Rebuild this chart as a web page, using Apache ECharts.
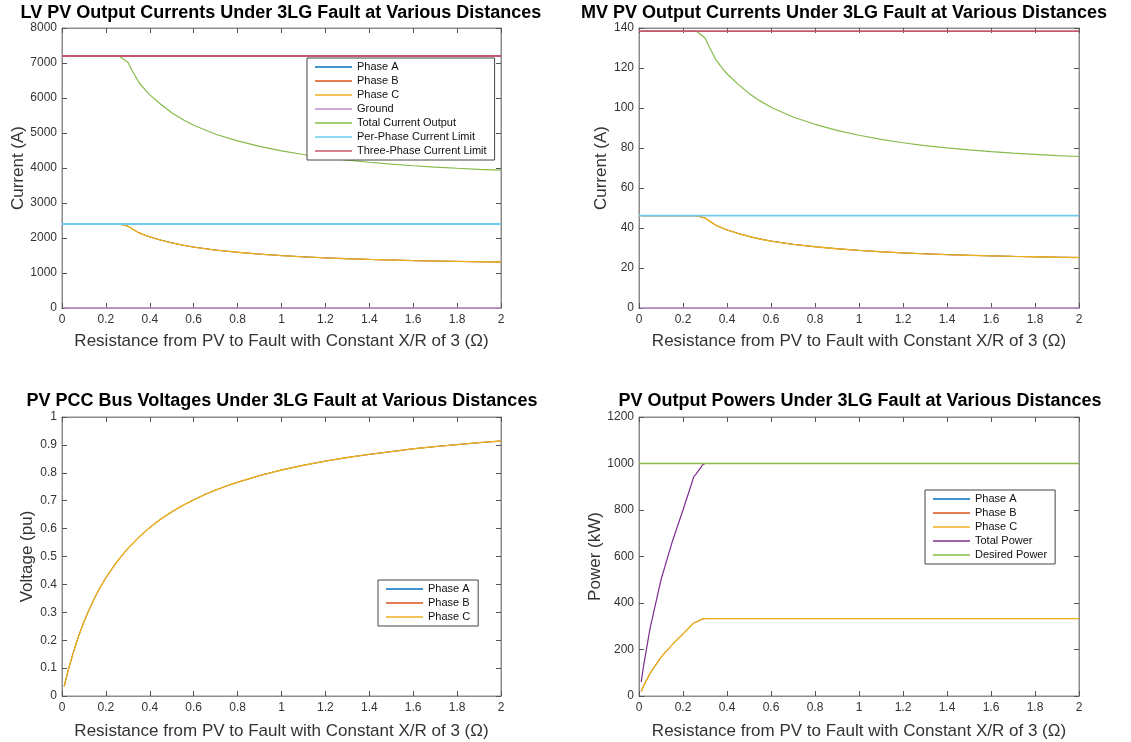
<!DOCTYPE html>
<html>
<head>
<meta charset="utf-8">
<script src="https://cdn.jsdelivr.net/npm/echarts@6/dist/echarts.min.js"></script>
<style>
html,body{margin:0;padding:0;background:#fff;}
#chart{width:1131px;height:742px;}
</style>
</head>
<body>
<div id="chart"></div>
<script>
// ---------- Data ----------
const titles = [
  'LV PV Output Currents Under 3LG Fault at Various Distances',
  'MV PV Output Currents Under 3LG Fault at Various Distances',
  'PV PCC Bus Voltages Under 3LG Fault at Various Distances',
  'PV Output Powers Under 3LG Fault at Various Distances'
];
const xAxisName = 'Resistance from PV to Fault with Constant X/R of 3 (\u03A9)';
const yNames = ['Current (A)', 'Current (A)', 'Voltage (pu)', 'Power (kW)'];

// Currents (LV and MV), x = resistance (ohm)
const xCurr = [0.01,0.1,0.2,0.26,0.28,0.3,0.32,0.35,0.38,0.4,0.45,0.5,0.55,0.6,0.7,0.8,0.9,1.0,1.1,1.2,1.3,1.4,1.5,1.6,1.7,1.8,1.9,2.0];
const lvPhase = [2400,2400,2400,2400,2370,2340,2260,2150,2075,2030,1940,1860,1795,1740,1655,1592,1540,1497,1462,1432,1408,1388,1370,1355,1342,1331,1321,1313];
const lvTotal = [7200,7200,7200,7200,7110,7020,6780,6450,6225,6090,5820,5580,5385,5220,4965,4776,4620,4491,4386,4296,4224,4164,4110,4065,4026,3993,3963,3939];
const mvPhase = [46.15,46.15,46.15,46.15,45.58,45.0,43.46,41.35,39.9,39.04,37.31,35.77,34.52,33.46,31.83,30.62,29.62,28.79,28.12,27.54,27.08,26.69,26.35,26.06,25.81,25.6,25.4,25.25];
const mvTotal = [138.46,138.46,138.46,138.46,136.73,135.0,130.38,124.04,119.7,117.12,111.92,107.31,103.56,100.38,95.48,91.85,88.85,86.37,84.35,82.62,81.23,80.08,79.04,78.17,77.42,76.79,76.21,75.75];
const limitX = [0, 2];
const lvPerPhaseLimit = [2400, 2400];
const lvThreePhaseLimit = [7200, 7200];
const mvPerPhaseLimit = [46.15, 46.15];
const mvThreePhaseLimit = [138.46, 138.46];
const groundX = [0.01, 2];
const groundVals = [0, 0];

// Voltages
const xV = [0.01,0.02,0.03,0.05,0.075,0.1,0.125,0.15,0.175,0.2,0.25,0.3,0.35,0.4,0.45,0.5,0.55,0.6,0.65,0.7,0.75,0.8,0.9,1.0,1.1,1.2,1.3,1.4,1.5,1.6,1.7,1.8,1.9,2.0];
const vPhase = [0.034,0.067,0.097,0.152,0.213,0.266,0.312,0.354,0.391,0.424,0.481,0.529,0.569,0.604,0.634,0.66,0.683,0.703,0.722,0.738,0.753,0.766,0.79,0.81,0.827,0.842,0.855,0.866,0.876,0.886,0.894,0.901,0.908,0.914];

// Powers
const xP = [0.01,0.02,0.05,0.1,0.15,0.2,0.25,0.26,0.29,0.3,0.5,1.0,1.5,2.0];
const pTotal = [60,125,290,500,660,800,945,955,995,1000,1000,1000,1000,1000];
const pPhase = [20,42,97,167,220,267,315,318,332,333,333,333,333,333];
const desiredX = [0, 2];
const desiredP = [1000, 1000];

// Axis ranges
const yRanges = [
  {min:0, max:8000, interval:1000},
  {min:0, max:140, interval:20},
  {min:0, max:1, interval:0.1},
  {min:0, max:1200, interval:200}
];

// ---------- Styling ----------
const FONT = '"Liberation Sans", Arial, Helvetica, sans-serif';
const C = {
  A:'#0072BD', B:'#D95319', Cc:'#EDB120', ground:'#BE8ECB', total:'#86BB4A',
  perPhase:'#6CCBEF', three:'#C8566E', totalP:'#7E2F8E', desired:'#86BB4A'
};
const grids = [
  {left:62, top:28, width:439, height:280},
  {left:639, top:28, width:440, height:280},
  {left:62, top:417, width:439, height:279},
  {left:639, top:417, width:440, height:279}
];
const titlePos = [{x:281, y:4}, {x:844, y:4}, {x:282, y:392}, {x:860, y:392}];
const yNameGap = [33, 29, 26, 33];
const xNameGap = [25, 25, 27, 27];
const AXIS_COLOR = '#8c8c8c';
const TICK_COLOR = '#555';

function pts(xs, ys){ return xs.map((x,i)=>[x, ys[i]]); }
function fmt(v){ return String(Math.round(v*1e6)/1e6); }

const xAxes = [], yAxes = [];
grids.forEach((g, i) => {
  const common = {gridIndex:i, type:'value', min:0, max:2, interval:0.2, splitLine:{show:false},
    axisLine:{show:true, onZero:false, lineStyle:{color:AXIS_COLOR, width:1}},
    axisTick:{show:true, inside:true, length:5, lineStyle:{color:TICK_COLOR}}};
  xAxes.push(Object.assign({}, common, {position:'bottom', name:xAxisName, nameLocation:'middle', nameGap:xNameGap[i],
    nameTextStyle:{fontSize:17, color:'#333', fontFamily:FONT},
    axisLabel:{fontSize:12, color:'#333', margin:6, fontFamily:FONT, formatter:fmt}}));
  xAxes.push(Object.assign({}, common, {position:'top', axisLabel:{show:false}}));
  const r = yRanges[i];
  const ycommon = {gridIndex:i, type:'value', min:r.min, max:r.max, interval:r.interval, splitLine:{show:false},
    axisLine:{show:true, onZero:false, lineStyle:{color:AXIS_COLOR, width:1}},
    axisTick:{show:true, inside:true, length:5, lineStyle:{color:TICK_COLOR}}};
  yAxes.push(Object.assign({}, ycommon, {position:'left', name:yNames[i], nameLocation:'middle', nameGap:yNameGap[i],
    nameTextStyle:{fontSize:17, color:'#333', fontFamily:FONT},
    axisLabel:{fontSize:12, color:'#333', margin:5, fontFamily:FONT, formatter:fmt}}));
  yAxes.push(Object.assign({}, ycommon, {position:'right', axisLabel:{show:false}}));
});

function line(name, gi, data, color, width){
  return {name, type:'line', xAxisIndex:gi*2, yAxisIndex:gi*2, data, symbol:'none', showSymbol:false,
    clip:false, animation:false, lineStyle:{color, width:width||1}, itemStyle:{color}};
}

const series = [
  // LV
  line('Phase A', 0, pts(xCurr, lvPhase), C.A, 0.8),
  line('Phase B', 0, pts(xCurr, lvPhase), C.B, 0.8),
  line('Phase C', 0, pts(xCurr, lvPhase), C.Cc, 1.4),
  line('Ground', 0, pts(groundX, groundVals), C.ground, 1.5),
  line('Total Current Output', 0, pts(xCurr, lvTotal), C.total, 1.2),
  line('Per-Phase Current Limit', 0, pts(limitX, lvPerPhaseLimit), C.perPhase, 1.8),
  line('Three-Phase Current Limit', 0, pts(limitX, lvThreePhaseLimit), C.three, 1.8),
  // MV
  line('Phase A', 1, pts(xCurr, mvPhase), C.A, 0.8),
  line('Phase B', 1, pts(xCurr, mvPhase), C.B, 0.8),
  line('Phase C', 1, pts(xCurr, mvPhase), C.Cc, 1.4),
  line('Ground', 1, pts(groundX, groundVals), C.ground, 1.5),
  line('Total Current Output', 1, pts(xCurr, mvTotal), C.total, 1.2),
  line('Per-Phase Current Limit', 1, pts(limitX, mvPerPhaseLimit), C.perPhase, 1.8),
  line('Three-Phase Current Limit', 1, pts(limitX, mvThreePhaseLimit), C.three, 1.8),
  // Voltage
  line('Phase A', 2, pts(xV, vPhase), C.A, 0.8),
  line('Phase B', 2, pts(xV, vPhase), C.B, 0.8),
  line('Phase C', 2, pts(xV, vPhase), C.Cc, 1.4),
  // Power
  line('Phase A', 3, pts(xP, pPhase), C.A, 0.8),
  line('Phase B', 3, pts(xP, pPhase), C.B, 0.8),
  line('Phase C', 3, pts(xP, pPhase), C.Cc, 1.4),
  line('Total Power', 3, pts(xP, pTotal), C.totalP, 1.2),
  line('Desired Power', 3, pts(desiredX, desiredP), C.desired, 1.3)
];

function legend(names, left, top){
  return {data:names, orient:'vertical', left, top, itemWidth:37, itemHeight:1.6, itemGap:2,
    icon:'rect', padding:[3,8,3,8], borderColor:'#444', borderWidth:1, backgroundColor:'#fff',
    selectedMode:false,
    textStyle:{fontSize:11, lineHeight:12, color:'#111', fontFamily:FONT}};
}

const option = {
  backgroundColor:'#fff',
  animation:false,
  textStyle:{fontFamily:FONT},
  title: titles.map((t,i)=>({text:t, left:titlePos[i].x, top:titlePos[i].y, textAlign:'center', padding:0,
    textStyle:{fontSize:18, fontWeight:'bold', color:'#000', fontFamily:FONT}})),
  grid: grids.map(g=>Object.assign({show:true, borderColor:AXIS_COLOR, borderWidth:1, backgroundColor:'#fff', containLabel:false}, g)),
  xAxis: xAxes,
  yAxis: yAxes,
  legend: [
    legend(['Phase A','Phase B','Phase C','Ground','Total Current Output','Per-Phase Current Limit','Three-Phase Current Limit'], 307, 58),
    legend(['Phase A','Phase B','Phase C'], 378, 580),
    legend(['Phase A','Phase B','Phase C','Total Power','Desired Power'], 925, 490)
  ],
  series
};

const chart = echarts.init(document.getElementById('chart'), null, {renderer:'canvas'});
chart.setOption(option);
</script>
</body>
</html>
